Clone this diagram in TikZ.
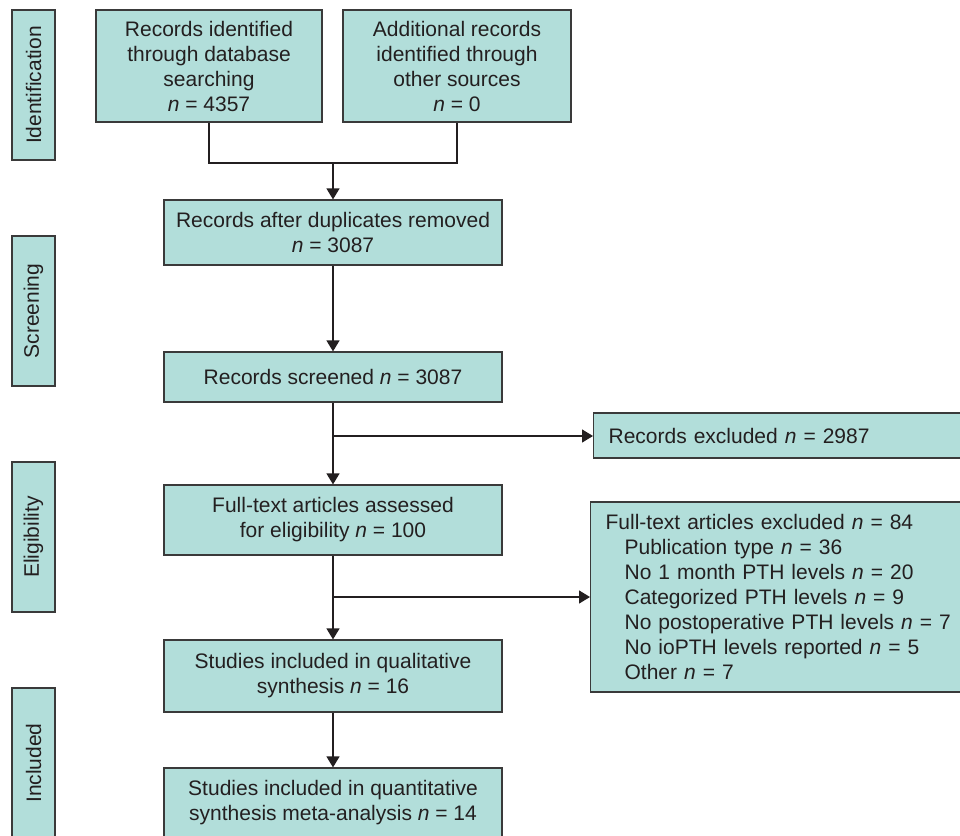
\documentclass[tikz,border=0pt]{standalone}
\usepackage{fontspec}
\setmainfont{Liberation Sans}
\usetikzlibrary{arrows.meta}
\definecolor{boxfill}{HTML}{B2DEDA}
\definecolor{boxline}{HTML}{3A3A3A}
\definecolor{arrline}{HTML}{231F20}
\newcommand{\nv}{\textit{n}}
\newcommand{\ind}{\hspace*{19pt}}
\begin{document}
\begin{tikzpicture}[x=1pt,y=-1pt,
  box/.style={draw=boxline, fill=boxfill, line width=1.2pt, align=center,
    text=arrline, font=\fontsize{21}{25}\selectfont, inner sep=0pt},
  sidebox/.style={box, rotate=90, minimum width=150, minimum height=43},
  exbox/.style={box, align=left, inner xsep=15pt, inner ysep=0pt},
  conn/.style={draw=arrline, line width=1.3pt},
  arrow/.style={conn, -{Triangle[length=11pt,width=13pt]}}]
\useasboundingbox (0,0) rectangle (960,835);
\clip (0,0) rectangle (960,835);

% side labels
\node[sidebox] (sid) at (33.5,85) {Identification};
\node[sidebox] (sscr) at (33.5,311) {Screening};
\node[sidebox] (selig) at (33.5,537) {Eligibility};
\node[sidebox] (sinc) at (33.5,763) {Included};

% main boxes
\node[box, minimum width=226, minimum height=112] (b1) at (209,66)
  {Records identified\\through database\\searching\\\nv{} = 4357};
\node[box, minimum width=228, minimum height=112] (b2) at (457,66)
  {Additional records\\identified through\\other sources\\\nv{} = 0};
\node[box, minimum width=338, minimum height=65] (b3) at (333,232.5)
  {Records after duplicates removed\\\nv{} = 3087};
\node[box, minimum width=338, minimum height=50] (b4) at (333,377)
  {Records screened \nv{} = 3087};
\node[box, minimum width=338, minimum height=70] (b5) at (333,520)
  {Full-text articles assessed\\for eligibility \nv{} = 100};
\node[box, minimum width=338, minimum height=72] (b6) at (333,676)
  {Studies included in qualitative\\synthesis \nv{} = 16};
\node[box, minimum width=338, minimum height=70] (b8) at (333,803)
  {Studies included in quantitative\\synthesis meta-analysis \nv{} = 14};

% exclusion boxes
\node[exbox, text width=360, minimum height=45, anchor=west] (ex1) at (593,435.5)
  {Records excluded \nv{} = 2987};
\node[exbox, text width=365, minimum height=190, anchor=west] (ex2) at (590,597)
  {Full-text articles excluded \nv{} = 84\\
   \ind Publication type \nv{} = 36\\
   \ind No 1 month PTH levels \nv{} = 20\\
   \ind Categorized PTH levels \nv{} = 9\\
   \ind No postoperative PTH levels \nv{} = 7\\
   \ind No ioPTH levels reported \nv{} = 5\\
   \ind Other \nv{} = 7};

% connectors
\coordinate (j1) at (333,163);
\coordinate (j2) at (333,436);
\coordinate (j3) at (333,597);
\draw[conn] (b1.south) |- (j1) -| (b2.south);
\draw[arrow] (j1) -- (b3.north);
\draw[arrow] (b3.south) -- (b4.north);
\draw[arrow] (b4.south) -- (b5.north);
\draw[arrow] (j2) -- (j2 -| ex1.west);
\draw[arrow] (b5.south) -- (b6.north);
\draw[arrow] (j3) -- (j3 -| ex2.west);
\draw[arrow] (b6.south) -- (b8.north);
\end{tikzpicture}
\end{document}
